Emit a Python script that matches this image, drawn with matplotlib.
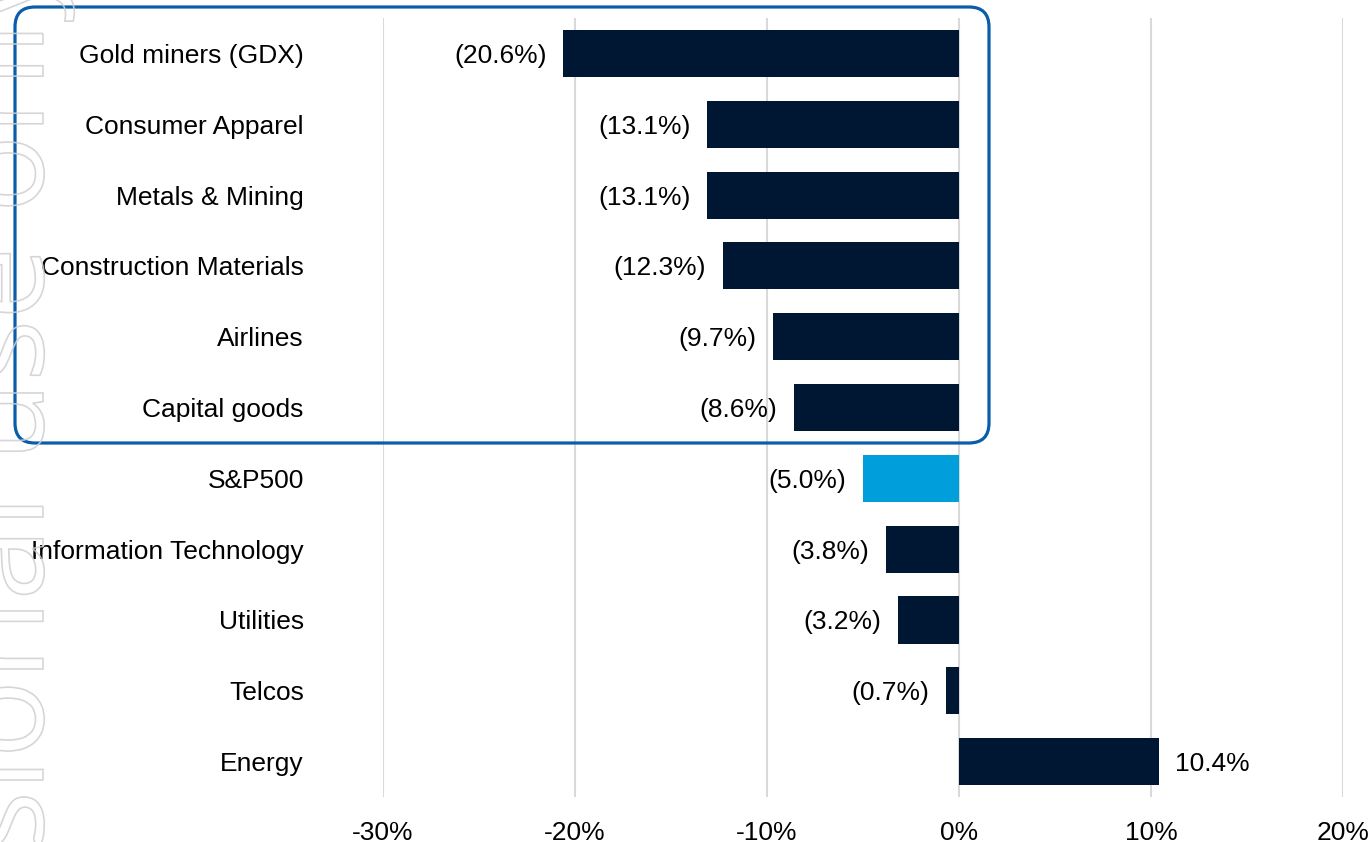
import matplotlib.pyplot as plt
from matplotlib.patches import FancyBboxPatch, PathPatch
from matplotlib.textpath import TextPath
from matplotlib.font_manager import FontProperties
from matplotlib.transforms import Affine2D
from matplotlib.ticker import FuncFormatter

plt.rcParams['font.family'] = ['Liberation Sans', 'DejaVu Sans']

sectors = ['Gold miners (GDX)', 'Consumer Apparel', 'Metals & Mining',
           'Construction Materials', 'Airlines', 'Capital goods', 'S&P500',
           'Information Technology', 'Utilities', 'Telcos', 'Energy']
returns = [-20.6, -13.1, -13.1, -12.3, -9.7, -8.6, -5.0, -3.8, -3.2, -0.7, 10.4]
benchmark = 'S&P500'
x_ticks = [-30, -20, -10, 0, 10, 20]

NAVY = '#001733'
SKY = '#009FDB'
FRAME = '#0A5DAB'


def pct_label(v):
    return f'({abs(v):.1f}%)' if v < 0 else f'{v:.1f}%'


fig = plt.figure(figsize=(13.7, 8.42), dpi=100)
ax = fig.add_axes([0.27956, 0.05344, 0.70073, 0.92518])

colors = [SKY if s == benchmark else NAVY for s in sectors]
pos = list(range(len(sectors)))
ax.barh(pos, returns, height=0.665, color=colors, zorder=3)

for y, v in zip(pos, returns):
    ax.annotate(pct_label(v), (v, y), xytext=(-12 if v < 0 else 12, 0),
                textcoords='offset points', ha='right' if v < 0 else 'left',
                va='center_baseline', fontsize=19, color='black', zorder=4)

ax.set_xlim(-30, 20)
ax.set_ylim(len(sectors) - 0.5, -0.5)
ax.set_xticks(x_ticks)
ax.xaxis.set_major_formatter(FuncFormatter(lambda v, _: f'{v:.0f}%'))
ax.set_yticks(pos)
ax.set_yticklabels(sectors)
ax.tick_params(axis='x', length=0, pad=17, labelsize=19)
ax.tick_params(axis='y', length=0, pad=57, labelsize=19)
ax.grid(axis='x', color='#D9D9D9', linewidth=1.5, zorder=0)
for side in ax.spines.values():
    side.set_visible(False)

# highlight frame around the worst performers
frame = FancyBboxPatch((0.15, 3.99), 9.74, 4.36,
                       boxstyle='round,pad=0,rounding_size=0.2',
                       transform=fig.dpi_scale_trans, fill=False,
                       edgecolor=FRAME, linewidth=2.3, zorder=5)
fig.patches.append(frame)

# faint outlined watermark running up the left edge, mostly off the page
wm_font = FontProperties(family='Open Sans')
em = 1.3  # inches
head = TextPath((0, 0), 'Professional', size=1, prop=wm_font)
start = 3.72 - (head.get_extents().x1 + 0.28) * em
mark = TextPath((0, 0), 'Professional use only', size=1, prop=wm_font)
place = Affine2D().scale(em).rotate_deg(90).translate(0.43, start)
fig.patches.append(PathPatch(mark, transform=place + fig.dpi_scale_trans,
                             facecolor='none', edgecolor='#CFCFCF',
                             linewidth=1.2, alpha=0.85, zorder=6))

fig.savefig('out.png', dpi=100)
